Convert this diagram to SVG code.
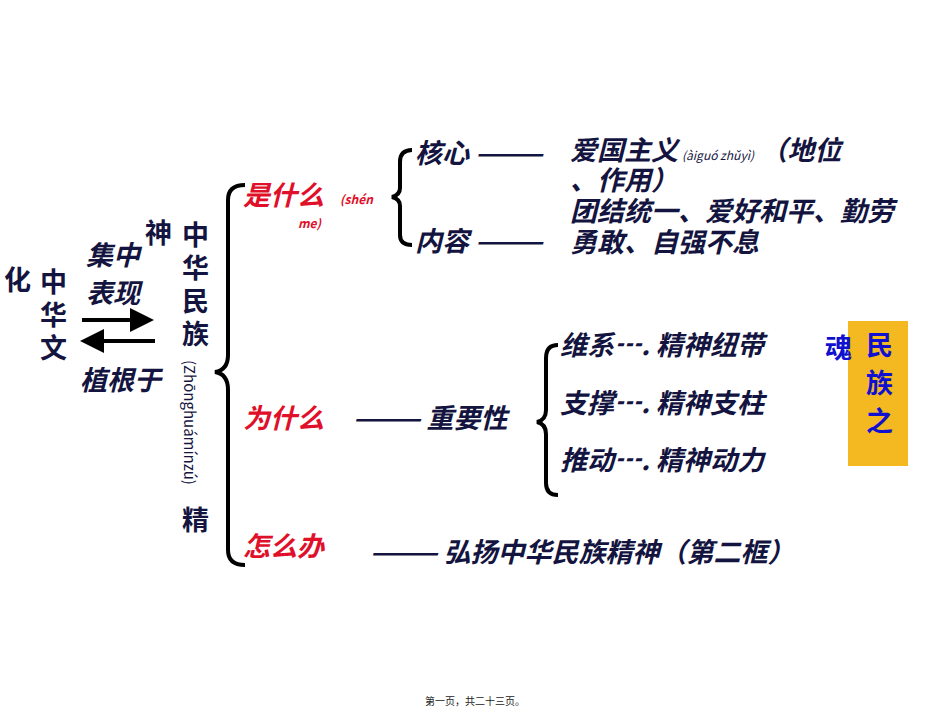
<svg xmlns="http://www.w3.org/2000/svg" width="950" height="713" viewBox="0 0 950 713">
<style>
.t{font-family:"Noto Sans CJK SC","Liberation Sans",sans-serif;font-weight:bold;fill:#141440;font-size:27px}
.i{font-style:italic}
.r{fill:#e0102a}
.s{font-size:12px}
.b{fill:none;stroke:#000;stroke-width:4}
.bl{fill:#1010d0}
</style>
<defs><marker id="ah" markerWidth="6" markerHeight="6" refX="5" refY="3" orient="auto" markerUnits="strokeWidth"><path d="M0,0 L6,3 L0,6z" fill="#000"/></marker></defs>
<rect width="950" height="713" fill="#fff"/>
<g id="connectors">
<path class="b" d="M245,185 Q228,185 228,200 V355 Q228,370 215,372 Q228,374 228,390 V550 Q228,565 245,565"/>
<path class="b" d="M412,150 Q400,150 400,162 V188 Q400,195 392,197 Q400,199 400,206 V235 Q400,245 412,245"/>
<path class="b" d="M558,345 Q546,345 546,358 V410 Q546,420 537,422 Q546,424 546,434 V483 Q546,495 558,495"/>
<line x1="82" y1="320" x2="150" y2="320" stroke="#000" stroke-width="4" marker-end="url(#ah)"/>
<line x1="155" y1="341" x2="84" y2="341" stroke="#000" stroke-width="4" marker-end="url(#ah)"/>
</g>
<g id="culture">
<text class="t" x="4" y="290">化</text>
<text class="t" x="40" y="292">中</text>
<text class="t" x="40" y="325">华</text>
<text class="t" x="40" y="358">文</text>
</g>
<g id="labels-left">
<text class="t i" x="86" y="265">集中</text>
<text class="t i" x="86" y="303">表现</text>
<text class="t" x="145" y="243">神</text>
<text class="t i" x="80" y="390">植根于</text>
</g>
<g id="spirit">
<text class="t" x="182" y="245">中</text>
<text class="t" x="182" y="278">华</text>
<text class="t" x="182" y="311">民</text>
<text class="t" x="182" y="344">族</text>
<text class="t" transform="translate(184,360) rotate(90)" style="font-weight:normal;font-size:15px">(Zhōnghuámínzú)</text>
<text class="t" x="182" y="530">精</text>
</g>
<g id="what">
<text class="t i r" x="243" y="205">是什么</text>
<text class="t i r s" x="340" y="204">(shén</text>
<text class="t i r s" x="298" y="228">me)</text>
<text class="t i" x="415" y="163">核心 ———</text>
<text class="t i" x="570" y="160">爱国主义<tspan class="s" style="font-weight:normal" dx="4">(àiguó zhǔyì)</tspan> （地位</text>
<text class="t i" x="570" y="190">、作用）</text>
<text class="t i" x="415" y="251">内容 ———</text>
<text class="t i" x="570" y="221">团结统一、爱好和平、勤劳</text>
<text class="t i" x="570" y="252">勇敢、自强不息</text>
</g>
<g id="why">
<text class="t i r" x="243" y="428">为什么</text>
<text class="t i" x="353" y="428">——— 重要性</text>
<text class="t i" x="560" y="355">维系┅. 精神纽带</text>
<text class="t i" x="560" y="413">支撑┅. 精神支柱</text>
<text class="t i" x="560" y="470">推动┅. 精神动力</text>
</g>
<g id="soul">
<rect x="848" y="321" width="60" height="145" fill="#f4b820"/>
<text class="t bl" x="866" y="355">民</text>
<text class="t bl" x="866" y="393">族</text>
<text class="t bl" x="866" y="431">之</text>
<text class="t bl" x="825" y="358">魂</text>
</g>
<g id="how">
<text class="t i r" x="243" y="556">怎么办</text>
<text class="t i" x="370" y="562">——— 弘扬中华民族精神（第二框）</text>
</g>
<text x="475" y="705" text-anchor="middle" style="font-family:'Noto Sans CJK SC',sans-serif;font-size:10px;fill:#222">第一页，共二十三页。</text>
</svg>
